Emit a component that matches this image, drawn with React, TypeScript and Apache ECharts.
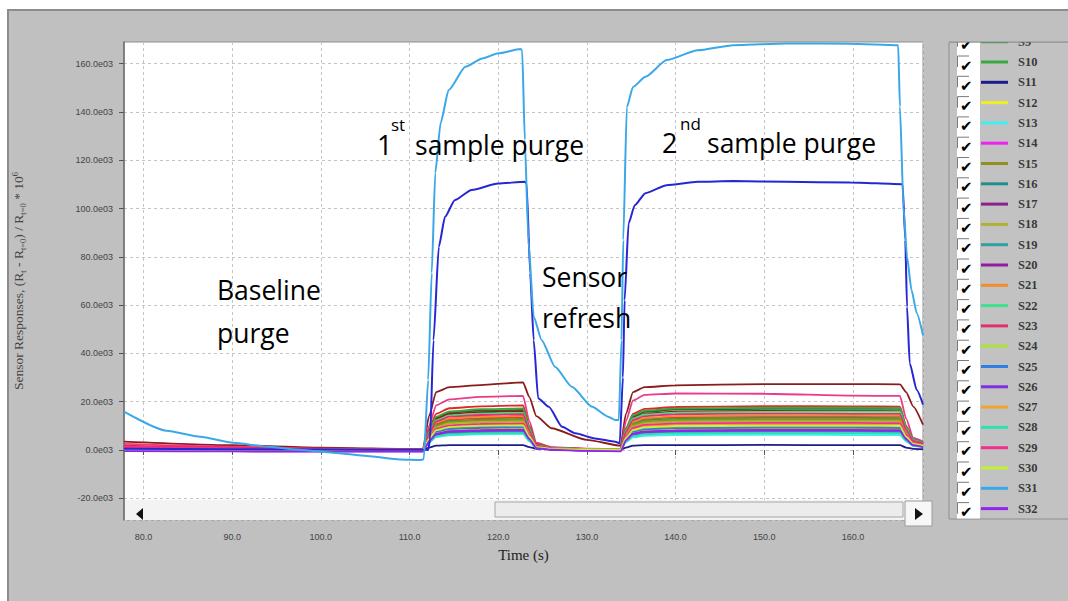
import React, { useEffect, useRef } from "react";
import * as echarts from "echarts";

// ---- Data (values in thousands, axis shows "e03") ----
const TIME = [77.8, 90, 100, 111.5, 112.2, 113, 114.5, 118, 122.8, 123.5, 124.3, 126, 130, 133.8, 134.4, 135.2, 136.5, 140, 150, 160, 165.3, 166, 166.8, 167.9];

const S1 = [3.5, 2.0, 1.0, 0.3, 14.0, 24.0, 26.0, 26.9, 28.0, 22.0, 14.0, 9.0, 4.2, 1.8, 15.0, 24.0, 26.0, 26.8, 27.3, 27.3, 27.2, 24.0, 18.0, 10.5];
const S2 = [2.5, 1.4, 0.6, 0.2, 10.0, 18.5, 21.0, 22.0, 22.4, 12.0, 3.0, 1.2, 0.6, 0.4, 12.0, 20.5, 22.8, 23.4, 23.3, 22.5, 22.4, 13.0, 5.0, 3.5];
const S4 = [1.8, 1.0, 0.4, 0.1, 8.5, 15.0, 17.3, 18.1, 18.5, 10.0, 2.5, 1.0, 0.5, 0.3, 9.0, 15.0, 17.0, 17.8, 18.2, 18.1, 18.0, 10.0, 4.0, 2.5];
const S5 = [0.5, 0.3, 0.1, 0.0, 7.5, 13.3, 15.4, 16.3, 16.6, 9.1, 2.0, 0.8, 0.3, 0.2, 8.5, 13.9, 15.8, 16.7, 17.0, 17.1, 17.0, 9.4, 4.3, 3.1];
const S6 = [1.2, 0.7, 0.3, 0.1, 7.2, 12.8, 14.9, 15.7, 16.0, 8.8, 1.9, 0.8, 0.3, 0.2, 8.1, 13.3, 15.1, 15.9, 16.2, 16.2, 16.1, 8.9, 4.0, 2.9];
const S7 = [1.0, 0.6, 0.3, 0.1, 6.1, 10.8, 12.6, 13.2, 13.5, 7.4, 1.6, 0.7, 0.3, 0.1, 7.0, 11.4, 12.9, 13.6, 13.9, 13.9, 13.8, 7.6, 3.5, 2.5];
const S8 = [0.2, 0.1, 0.0, 0.0, 5.4, 9.7, 11.3, 11.9, 12.1, 6.7, 1.5, 0.6, 0.2, 0.1, 6.1, 10.0, 11.3, 12.0, 12.2, 12.2, 12.1, 6.7, 3.1, 2.2];
const S9 = [0.3, 0.2, 0.1, 0.0, 5.8, 10.3, 12.0, 12.6, 12.9, 7.1, 1.5, 0.6, 0.3, 0.1, 6.7, 10.9, 12.4, 13.0, 13.3, 13.3, 13.2, 7.3, 3.3, 2.4];
const S10 = [0.6, 0.4, 0.2, 0.1, 7.7, 13.8, 16.0, 16.9, 17.2, 9.5, 2.1, 0.9, 0.4, 0.2, 8.8, 14.4, 16.3, 17.2, 17.5, 17.5, 17.4, 9.6, 4.4, 3.2];
const S11 = [0.1, 0.0, 0.0, 0.0, 1.0, 1.8, 2.0, 2.0, 2.0, 1.2, 0.5, 0.3, 0.2, 0.1, 1.0, 1.8, 2.0, 2.0, 2.1, 2.0, 2.0, 1.0, 0.5, 0.3];
const S12 = [0.3, 0.2, 0.1, 0.0, 5.1, 9.1, 10.6, 11.2, 11.4, 6.3, 1.4, 0.6, 0.2, 0.1, 5.7, 9.3, 10.5, 11.1, 11.3, 11.4, 11.3, 6.2, 2.8, 2.0];
const S13 = [0.1, 0.0, 0.0, 0.0, 3.0, 5.3, 6.1, 6.5, 6.6, 3.6, 0.8, 0.3, 0.1, 0.0, 3.2, 5.2, 5.9, 6.2, 6.3, 6.2, 6.2, 3.5, 1.6, 1.1];
const S14 = [-0.4, -0.5, -0.6, -0.6, 4.0, 7.2, 8.4, 8.8, 9.0, 4.9, 1.0, 0.2, -0.3, -0.5, 4.4, 7.2, 8.2, 8.6, 8.8, 8.8, 8.7, 4.8, 2.2, 1.5];
const S15 = [0.4, 0.2, 0.1, 0.0, 5.6, 10.0, 11.6, 12.3, 12.5, 6.9, 1.5, 0.6, 0.3, 0.1, 6.4, 10.5, 11.9, 12.5, 12.8, 12.8, 12.7, 7.0, 3.2, 2.3];
const S16 = [0.3, 0.2, 0.1, 0.0, 3.5, 6.2, 7.3, 7.6, 7.8, 4.3, 0.9, 0.4, 0.2, 0.1, 4.0, 6.5, 7.3, 7.7, 7.9, 7.9, 7.8, 4.3, 2.0, 1.4];
const S17 = [0.0, -0.1, -0.2, -0.2, 4.2, 7.4, 8.6, 9.1, 9.3, 5.1, 1.1, 0.4, 0.1, -0.1, 4.5, 7.4, 8.4, 8.8, 9.0, 9.0, 8.9, 5.0, 2.2, 1.6];
const S18 = [0.5, 0.3, 0.1, 0.0, 5.3, 9.4, 11.0, 11.6, 11.8, 6.5, 1.4, 0.6, 0.2, 0.1, 6.0, 9.8, 11.1, 11.7, 11.9, 11.9, 11.8, 6.5, 3.0, 2.1];
const S19 = [0.2, 0.1, 0.0, 0.0, 3.3, 5.9, 6.9, 7.3, 7.4, 4.1, 0.9, 0.4, 0.1, 0.1, 3.8, 6.2, 7.0, 7.4, 7.5, 7.5, 7.4, 4.1, 1.9, 1.4];
const S20 = [0.1, 0.0, -0.1, -0.1, 4.5, 7.9, 9.2, 9.7, 9.9, 5.4, 1.2, 0.5, 0.2, 0.0, 4.9, 8.0, 9.0, 9.5, 9.7, 9.7, 9.6, 5.3, 2.4, 1.7];
const S21 = [0.4, 0.2, 0.1, 0.0, 6.3, 11.3, 13.1, 13.8, 14.1, 7.8, 1.7, 0.7, 0.3, 0.1, 7.2, 11.7, 13.3, 14.0, 14.3, 14.3, 14.2, 7.9, 3.6, 2.6];
const S22 = [0.3, 0.2, 0.1, 0.0, 6.9, 12.3, 14.3, 15.1, 15.4, 8.5, 1.8, 0.8, 0.3, 0.2, 7.9, 13.0, 14.7, 15.5, 15.8, 15.9, 15.8, 8.7, 4.0, 2.8];
const S23 = [0.9, 0.5, 0.2, 0.1, 6.7, 11.8, 13.8, 14.5, 14.8, 8.1, 1.8, 0.7, 0.3, 0.1, 7.6, 12.4, 14.0, 14.8, 15.1, 15.0, 15.0, 8.3, 3.8, 2.7];
const S24 = [0.2, 0.1, 0.0, 0.0, 3.9, 7.0, 8.1, 8.5, 8.7, 4.8, 1.0, 0.4, 0.2, 0.1, 4.3, 7.1, 8.0, 8.4, 8.6, 8.6, 8.5, 4.7, 2.2, 1.5];
const S25 = [0.3, 0.2, 0.1, 0.0, 4.3, 7.7, 8.9, 9.4, 9.6, 5.3, 1.2, 0.5, 0.2, 0.1, 4.7, 7.7, 8.7, 9.2, 9.4, 9.4, 9.3, 5.2, 2.4, 1.7];
const S26 = [-0.2, -0.3, -0.4, -0.4, 3.8, 6.7, 7.8, 8.2, 8.4, 4.6, 0.9, 0.2, -0.2, -0.3, 4.1, 6.8, 7.7, 8.1, 8.3, 8.3, 8.2, 4.6, 2.1, 1.4];
const S27 = [0.4, 0.2, 0.1, 0.0, 4.8, 8.5, 9.9, 10.4, 10.6, 5.8, 1.3, 0.5, 0.2, 0.1, 5.4, 8.8, 10.0, 10.5, 10.7, 10.7, 10.6, 5.9, 2.7, 1.9];
const S28 = [0.2, 0.1, 0.0, 0.0, 3.2, 5.6, 6.5, 6.9, 7.0, 3.9, 0.8, 0.4, 0.1, 0.1, 3.5, 5.7, 6.5, 6.9, 7.0, 7.0, 6.9, 3.9, 1.8, 1.3];
const S29 = [1.4, 0.8, 0.3, 0.1, 5.0, 8.8, 10.2, 10.8, 11.0, 6.1, 1.3, 0.6, 0.2, 0.1, 5.6, 9.2, 10.4, 11.0, 11.2, 11.2, 11.1, 6.2, 2.8, 2.0];
const S30 = [0.2, 0.1, 0.0, 0.0, 4.6, 8.2, 9.5, 10.0, 10.2, 5.6, 1.2, 0.5, 0.2, 0.1, 5.0, 8.2, 9.3, 9.8, 10.0, 10.0, 9.9, 5.5, 2.5, 1.8];
const S32 = [-0.5, -0.6, -0.7, -0.7, 3.6, 6.5, 7.5, 7.9, 8.1, 4.5, 0.8, 0.1, -0.4, -0.6, 4.0, 6.6, 7.4, 7.8, 8.0, 8.0, 7.9, 4.4, 2.0, 1.2];

// S3: the large dark-blue response
const S3_TIME = [77.8, 90, 100, 111.5, 112.1, 112.3, 112.7, 113.3, 114.0, 115.1, 117.0, 120.0, 123.0, 123.2, 123.6, 124.0, 124.5, 125.7, 127.2, 128.7, 130.9, 133.2, 133.7, 134.06, 134.25, 134.7, 135.4, 136.6, 139.0, 142.5, 146.5, 152.5, 159.7, 165.6, 165.9, 166.1, 166.4, 167.2, 167.9];
const S3 = [0.5, 0.3, 0.2, 0.1, 0.0, 4.1, 45.5, 84.2, 96.6, 103.5, 107.7, 110.4, 111.1, 110.4, 73.3, 45.5, 21.4, 17.9, 9.6, 6.9, 4.8, 3.4, 2.8, 30.0, 62.0, 93.9, 101.4, 106.4, 109.7, 111.1, 111.4, 111.1, 110.8, 110.1, 87.0, 59.3, 35.9, 24.8, 18.8];

// S31: the large light-blue response
const S31_TIME = [77.8, 82.6, 86.4, 90.1, 93.9, 97.7, 101.4, 105.2, 108.9, 111.3, 111.6, 112.1, 112.5, 112.9, 113.5, 114.4, 116.3, 118.2, 120.0, 122.5, 122.7, 123.0, 123.4, 124.0, 124.9, 126.4, 128.3, 130.6, 132.4, 133.2, 133.6, 133.9, 134.1, 134.5, 135.2, 136.6, 139.0, 142.5, 146.5, 152.5, 159.7, 165.1, 165.3, 165.7, 166.1, 166.6, 167.2, 167.9];
const S31 = [15.9, 8.0, 5.5, 3.0, 1.4, 0.0, -1.1, -2.5, -3.9, -4.1, -3.8, 29.0, 73.3, 114.7, 135.4, 149.0, 158.7, 162.2, 164.3, 166.1, 165.6, 128.4, 87.0, 55.2, 45.5, 34.5, 26.2, 17.9, 13.8, 12.4, 12.4, 45.5, 87.0, 142.0, 150.4, 154.6, 161.5, 165.6, 167.7, 168.4, 168.3, 167.7, 142.2, 100.7, 80.0, 66.3, 56.6, 47.5];

const NAMES = ["S1","S2","S3","S4","S5","S6","S7","S8","S9","S10","S11","S12","S13","S14","S15","S16","S17","S18","S19","S20","S21","S22","S23","S24","S25","S26","S27","S28","S29","S30","S31","S32"];

// ---- Styles ----
const COLORS: Record<string, string> = {
  S1: "#8b1c1c", S2: "#ec3a8a", S3: "#2626d4", S4: "#e62626", S5: "#1e6b2a", S6: "#a51616",
  S7: "#ff3232", S8: "#8f8f8f", S9: "#2e9c3a", S10: "#3aa83e", S11: "#1c1c8c", S12: "#eeee22",
  S13: "#40eeee", S14: "#ee22ee", S15: "#8f8f22", S16: "#1f8f8f", S17: "#8c208c", S18: "#b0b032",
  S19: "#30a0a0", S20: "#8e1e9e", S21: "#f08c2a", S22: "#3ee08e", S23: "#e0306e", S24: "#aee03c",
  S25: "#2f80e0", S26: "#7e30e0", S27: "#f2a230", S28: "#30e0b2", S29: "#f0308e", S30: "#c2f032",
  S31: "#3aa8e8", S32: "#9422f0",
};

const PLATEAU: Record<string, number[]> = {
  S1, S2, S4, S5, S6, S7, S8, S9, S10, S11, S12, S13, S14, S15, S16, S17, S18, S19, S20,
  S21, S22, S23, S24, S25, S26, S27, S28, S29, S30, S32,
};

function buildSeries() {
  const out: any[] = [];
  NAMES.forEach((name) => {
    let data: number[][];
    if (name === "S3") data = S3_TIME.map((t, i) => [t, S3[i]]);
    else if (name === "S31") data = S31_TIME.map((t, i) => [t, S31[i]]);
    else data = TIME.map((t, i) => [t, PLATEAU[name][i]]);
    const big = name === "S3" || name === "S31";
    out.push({
      type: "line",
      name,
      data,
      showSymbol: false,
      symbol: "none",
      smooth: 0.2,
      smoothMonotone: "x",
      lineStyle: { width: big ? 2 : 1.8, color: COLORS[name] },
      itemStyle: { color: COLORS[name] },
      z: big ? 4 : 2,
    });
  });
  return out;
}

function txt(text: string, x: number, y: number, size: number, family: string, fill: string, weight: string = "normal") {
  return {
    type: "text",
    x,
    y,
    z: 100,
    silent: true,
    style: {
      text,
      fontSize: size,
      fontFamily: family,
      fontWeight: weight,
      fill,
      align: "left",
      verticalAlign: "middle",
      textAlign: "left",
      textVerticalAlign: "middle",
    },
  };
}

function buildGraphic() {
  const g: any[] = [];
  const ann = "Open Sans";
  // annotations
  g.push(txt("Baseline", 217, 290, 26.5, ann, "#000"));
  g.push(txt("purge", 217, 333, 26.5, ann, "#000"));
  g.push(txt("1", 377, 144, 27, ann, "#000"));
  g.push(txt("st", 391, 124, 17, ann, "#000"));
  g.push(txt("sample purge", 415, 145, 26.5, ann, "#000"));
  g.push(txt("2", 662, 142, 27, ann, "#000"));
  g.push(txt("nd", 680, 123, 17, ann, "#000"));
  g.push(txt("sample purge", 707, 143, 26.5, ann, "#000"));
  g.push(txt("Sensor", 542, 277, 26.5, ann, "#000"));
  g.push(txt("refresh", 542, 318, 26.5, ann, "#000"));

  // scrollbar
  g.push({ type: "rect", z: 100, silent: true, shape: { x: 125, y: 500, width: 797, height: 20 }, style: { fill: "#f3f3f3" } });
  g.push({ type: "rect", z: 100, silent: true, shape: { x: 495, y: 502, width: 408, height: 15 }, style: { fill: "#ececec", stroke: "#a6a6a6", lineWidth: 1 } });
  g.push({ type: "polygon", z: 101, silent: true, shape: { points: [[136, 514], [143, 508], [143, 520]] }, style: { fill: "#111" } });
  g.push({ type: "rect", z: 100, silent: true, shape: { x: 905, y: 501, width: 27, height: 25 }, style: { fill: "#f7f7f7", stroke: "#9a9a9a", lineWidth: 1 } });
  g.push({ type: "polygon", z: 101, silent: true, shape: { points: [[923, 514], [915, 508], [915, 520]] }, style: { fill: "#111" } });

  // legend panel
  g.push({ type: "rect", z: 100, silent: true, shape: { x: 949, y: 42, width: 130, height: 477 }, style: { fill: "#c2c2c2", stroke: "#8f8f8f", lineWidth: 1 } });
  g.push({ type: "rect", z: 100, silent: true, shape: { x: 957, y: 42.5, width: 23, height: 476 }, style: { fill: "#ffffff" } });
  for (let k = 9; k <= 32; k++) {
    const name = NAMES[k - 1];
    const yc = 62 + (k - 10) * 20.3;
    g.push({ type: "polyline", z: 101, silent: true, shape: { points: [[957.5, yc + 5], [957.5, yc - 6], [969, yc - 6]] }, style: { stroke: "#7a7a7a", lineWidth: 1, fill: null } });
    g.push(txt("\u2714", 960, yc + 3.5, 15, "DejaVu Sans", "#000"));
    g.push({ type: "line", z: 101, silent: true, shape: { x1: 981, y1: yc, x2: 1008, y2: yc }, style: { stroke: COLORS[name], lineWidth: 3 } });
    g.push(txt(name, 1018, yc, 12.5, "Liberation Serif", "#3a3a3a", "bold"));
  }
  // cover the clipped top of the list
  g.push({ type: "rect", z: 102, silent: true, shape: { x: 940, y: 11, width: 128, height: 31 }, style: { fill: "#c0c0c0" } });
  g.push({ type: "line", z: 102, silent: true, shape: { x1: 949, y1: 42, x2: 1068, y2: 42 }, style: { stroke: "#8f8f8f", lineWidth: 1 } });
  return g;
}

export default function App() {
  const ref = useRef<HTMLDivElement>(null);
  useEffect(() => {
    if (!ref.current) return;
    const chart = echarts.init(ref.current, undefined, { renderer: "svg" });
    const option: any = {
      animation: false,
      backgroundColor: "transparent",
      grid: {
        left: 124, top: 42, right: 145, bottom: 81, show: true,
        backgroundColor: "#ffffff", borderColor: "#8f8f8f", borderWidth: 1,
      },
      xAxis: {
        type: "value", min: 77.8, max: 167.9, splitNumber: 9,
        name: "Time (s)", nameLocation: "middle", nameGap: 27,
        nameTextStyle: { fontFamily: "Liberation Serif", fontSize: 15, color: "#222" },
        axisLine: { show: false },
        axisTick: { show: true, length: 5, lineStyle: { color: "#555" } },
        axisLabel: {
          formatter: (v: number) => v.toFixed(1), fontFamily: "Liberation Sans", fontSize: 9,
          color: "#444", margin: 12, showMinLabel: false, showMaxLabel: false,
        },
        splitLine: { show: true, lineStyle: { color: "#c4c4c4", type: [3, 3], width: 1 } },
      },
      yAxis: {
        type: "value", min: -29, max: 169, splitNumber: 10,
        name: "{a|Sensor Responses, (R}{s|t}{a| - R}{s|t=0}{a|) / R}{s|t=0}{a| * 10}{p|6}",
        nameLocation: "middle", nameGap: 97, nameRotate: 90,
        nameTextStyle: {
          rich: {
            a: { fontFamily: "Liberation Serif", fontSize: 13.5, color: "#444", lineHeight: 17 },
            s: { fontFamily: "Liberation Serif", fontSize: 8.5, color: "#444", verticalAlign: "bottom", lineHeight: 17 },
            p: { fontFamily: "Liberation Serif", fontSize: 8.5, color: "#444", verticalAlign: "top", lineHeight: 17 },
          },
        },
        axisLine: { show: true, lineStyle: { color: "#6e6e6e", width: 1.5 } },
        axisTick: { show: true, length: 5, lineStyle: { color: "#555" } },
        axisLabel: {
          formatter: (v: number) => v.toFixed(1) + "e03", fontFamily: "Liberation Sans", fontSize: 9,
          color: "#444", margin: 11, showMinLabel: false, showMaxLabel: false,
        },
        splitLine: { show: true, lineStyle: { color: "#c4c4c4", type: [3, 3], width: 1 } },
      },
      series: buildSeries(),
      graphic: buildGraphic(),
    };
    chart.setOption(option);
    return () => chart.dispose();
  }, []);

  return (
    <div style={{ position: "fixed", left: 0, top: 0, width: 1068, height: 601, background: "#ffffff", overflow: "hidden" }}>
      <div style={{ position: "absolute", left: 7, top: 9, width: 1061, height: 592, background: "#c0c0c0", borderTop: "2px solid #8c8c8c", borderLeft: "2px solid #8c8c8c", boxSizing: "border-box" }} />
      <div ref={ref} style={{ position: "absolute", left: 0, top: 0, width: 1068, height: 601 }} />
    </div>
  );
}
